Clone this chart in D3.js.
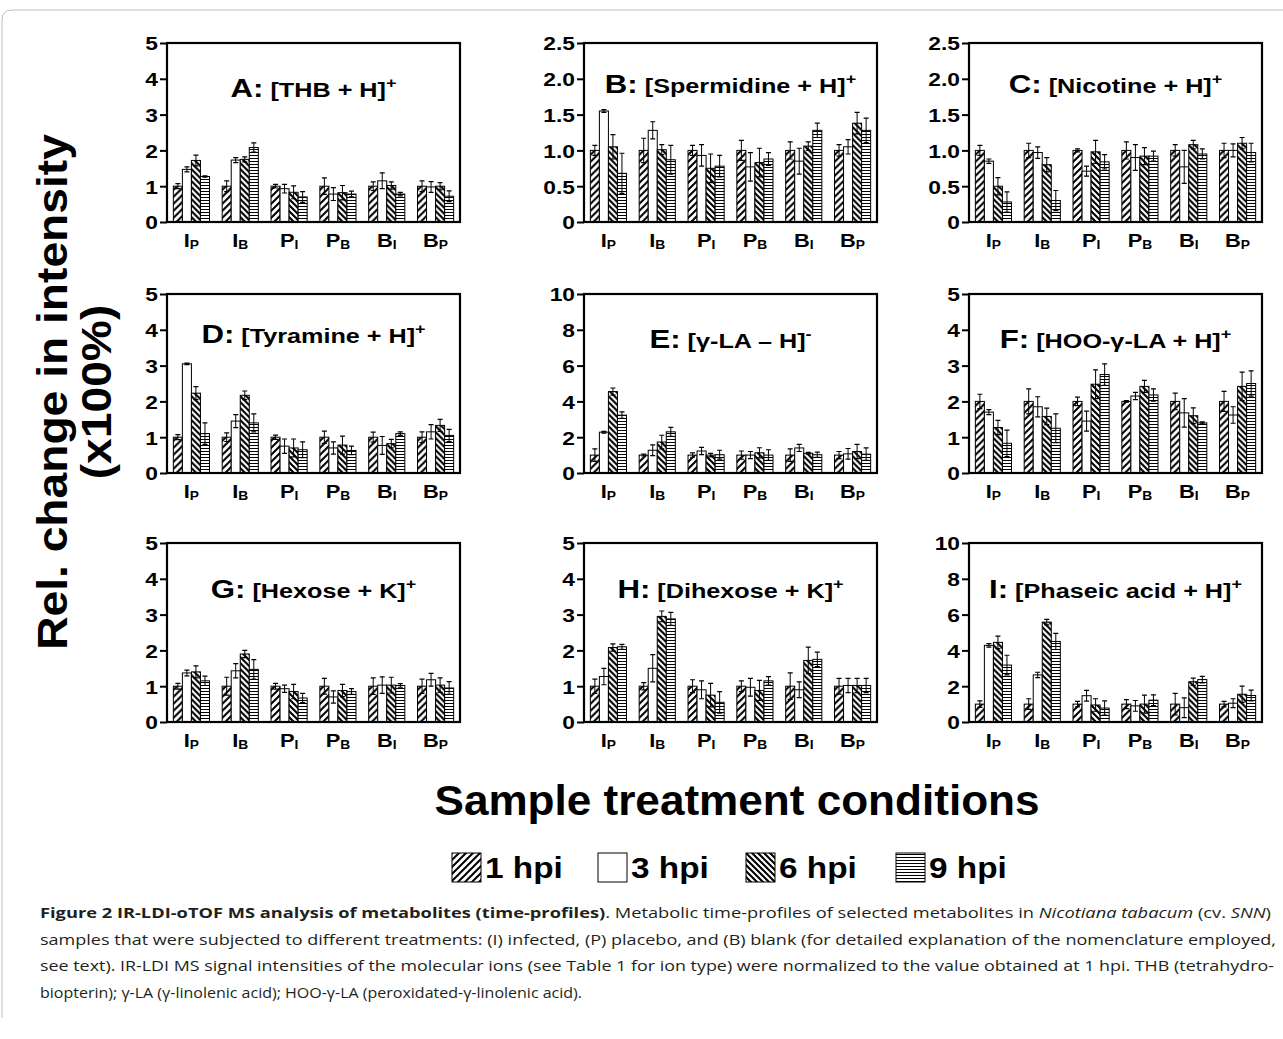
<!DOCTYPE html>
<html>
<head>
<meta charset="utf-8">
<script src="https://cdn.jsdelivr.net/npm/d3@7"></script>
<style>
  body { margin: 0; background: #fff; }
  svg { display: block; }
  text { font-family: "Liberation Sans", Arial, sans-serif; font-weight: bold; fill: #000; }
  .cap { font-family: "Open Sans", "Noto Sans", sans-serif; font-weight: normal; fill: #231f20; }
</style>
</head>
<body>
<div id="chart"></div>
<script>
// --- data
var groupMain = ['I', 'I', 'P', 'P', 'B', 'B'];
var groupSub  = ['P', 'B', 'I', 'B', 'I', 'P'];
var series = ['1 hpi', '3 hpi', '6 hpi', '9 hpi'];

var letters = ['A', 'B', 'C', 'D', 'E', 'F', 'G', 'H', 'I'];
var ions = ['[THB + H]', '[Spermidine + H]', '[Nicotine + H]', '[Tyramine + H]', '[\u03b3-LA \u2013 H]',
            '[HOO-\u03b3-LA + H]', '[Hexose + K]', '[Dihexose + K]', '[Phaseic acid + H]'];
var charges = ['+', '+', '+', '+', '-', '+', '+', '+', '+'];
var yMax = [5, 2.5, 2.5, 5, 10, 5, 5, 5, 10];
var yStep = [1, 0.5, 0.5, 1, 2, 1, 1, 1, 2];

// rows = groups (IP, IB, PI, PB, BI, BP), columns = 1, 3, 6, 9 hpi
var aMean = [[1,1.47,1.72,1.27],[1,1.73,1.75,2.08],[1,0.93,0.83,0.70],[1,0.78,0.82,0.78],[1,1.15,1.02,0.78],[1,0.98,1.0,0.72]];
var aErr  = [[0.07,0.07,0.15,0.02],[0.15,0.07,0.07,0.13],[0.05,0.12,0.18,0.15],[0.23,0.18,0.2,0.08],[0.12,0.22,0.1,0.05],[0.15,0.15,0.1,0.15]];
var bMean = [[1,1.55,1.05,0.68],[1,1.28,1.01,0.87],[1,0.93,0.75,0.78],[1,0.77,0.83,0.88],[1,0.85,1.06,1.28],[1,1.05,1.38,1.28]];
var bErr  = [[0.07,0.02,0.17,0.28],[0.17,0.12,0.07,0.2],[0.07,0.15,0.2,0.15],[0.14,0.2,0.2,0.09],[0.12,0.18,0.06,0.1],[0.08,0.1,0.15,0.17]];
var cMean = [[1,0.85,0.5,0.28],[1,0.97,0.8,0.3],[1,0.71,0.98,0.84],[1,0.9,0.92,0.92],[1,0.77,1.08,0.95],[1,1.0,1.1,0.97]];
var cErr  = [[0.07,0.03,0.12,0.14],[0.1,0.08,0.1,0.14],[0.02,0.07,0.16,0.1],[0.12,0.18,0.12,0.07],[0.08,0.23,0.06,0.07],[0.1,0.09,0.08,0.13]];
var dMean = [[1,3.05,2.23,1.1],[1,1.45,2.17,1.4],[1,0.75,0.7,0.65],[1,0.7,0.78,0.63],[1,0.77,0.82,1.1],[1,1.15,1.33,1.05]];
var dErr  = [[0.07,0.02,0.18,0.3],[0.12,0.18,0.12,0.25],[0.06,0.2,0.25,0.22],[0.17,0.17,0.25,0.12],[0.14,0.25,0.12,0.05],[0.15,0.2,0.17,0.17]];
var eMean = [[1,2.28,4.55,3.23],[1,1.27,1.73,2.3],[1,1.23,1.0,1.02],[1,1.0,1.13,1.0],[1,1.4,1.1,1.02],[1,1.07,1.2,1.05]];
var eErr  = [[0.35,0.05,0.2,0.18],[0.05,0.3,0.38,0.25],[0.12,0.2,0.1,0.25],[0.23,0.2,0.28,0.3],[0.35,0.2,0.05,0.15],[0.2,0.3,0.4,0.35]];
var fMean = [[2,1.7,1.27,0.83],[2,1.85,1.58,1.25],[2,1.45,2.48,2.75],[2,2.15,2.42,2.18],[2,1.68,1.6,1.4],[2,1.62,2.42,2.5]];
var fErr  = [[0.2,0.07,0.2,0.37],[0.35,0.28,0.23,0.4],[0.12,0.28,0.4,0.3],[0.02,0.1,0.17,0.17],[0.23,0.4,0.22,0.03],[0.28,0.23,0.4,0.35]];
var gMean = [[1,1.37,1.4,1.15],[1,1.43,1.9,1.47],[1,0.93,0.85,0.67],[1,0.7,0.88,0.85],[1,1.03,1.03,1.02],[1,1.18,1.03,0.95]];
var gErr  = [[0.08,0.08,0.17,0.13],[0.25,0.2,0.1,0.27],[0.08,0.1,0.2,0.13],[0.22,0.17,0.17,0.08],[0.23,0.23,0.22,0.05],[0.2,0.18,0.2,0.18]];
var hMean = [[1,1.27,2.08,2.1],[1,1.5,2.95,2.88],[1,0.9,0.75,0.55],[1,0.97,0.88,1.15],[1,0.9,1.72,1.75],[1,1.02,1.02,1.02]];
var hErr  = [[0.2,0.23,0.1,0.07],[0.1,0.38,0.15,0.18],[0.18,0.25,0.33,0.3],[0.15,0.25,0.28,0.12],[0.37,0.22,0.37,0.2],[0.22,0.2,0.2,0.2]];
var iMean = [[1,4.28,4.45,3.18],[1,2.63,5.58,4.5],[1,1.47,0.95,0.78],[1,0.9,1.0,1.22],[1,0.8,2.25,2.37],[1,1.05,1.55,1.48]];
var iErr  = [[0.18,0.1,0.35,0.55],[0.3,0.15,0.15,0.45],[0.15,0.3,0.35,0.4],[0.25,0.3,0.5,0.3],[0.6,0.55,0.2,0.18],[0.15,0.25,0.45,0.3]];

var means = [aMean, bMean, cMean, dMean, eMean, fMean, gMean, hMean, iMean];
var errs  = [aErr, bErr, cErr, dErr, eErr, fErr, gErr, hErr, iErr];

// --- layout
var W = 1283, H = 1039;
var colX = [167, 584, 969], rowY = [43, 294, 543];
var pw = 293, ph = 179;
var titleY = [54, 50, 50, 49, 54, 54, 55, 55, 55];
var SX = 1.2; // the panel lettering is a bit wide

var svg = d3.select('#chart').append('svg').attr('width', W).attr('height', H);
var defs = svg.append('defs');

function pat(id, w, h, d, sw) {
  var p = defs.append('pattern').attr('id', id)
    .attr('patternUnits', 'userSpaceOnUse').attr('width', w).attr('height', h);
  p.append('rect').attr('width', w).attr('height', h).attr('fill', '#fff');
  p.append('path').attr('d', d).attr('stroke', '#000').attr('stroke-width', sw).attr('fill', 'none');
}
pat('p1', 7, 7, 'M0,7L7,0M-3.5,3.5L3.5,-3.5M3.5,10.5L10.5,3.5', 2);
pat('p6', 6, 6, 'M0,0L6,6M-3,3L3,9M3,-3L9,3', 2.1);
pat('p9', 4, 3, 'M0,1.5H4', 1);
var fills = ['url(#p1)', '#fff', 'url(#p6)', 'url(#p9)'];

// frame around figure + caption
svg.append('path')
  .attr('d', 'M2,1018V20Q2,10 12,10H1283')
  .attr('fill', 'none').attr('stroke', '#bdbdbd').attr('stroke-width', 1);

// --- panels
means.forEach(function(m, i) {
  var g = svg.append('g')
    .attr('transform', 'translate(' + colX[i % 3] + ',' + rowY[Math.floor(i / 3)] + ')');

  var x = d3.scaleBand().domain(d3.range(6)).range([0, pw]).paddingInner(0.26).paddingOuter(0.13);
  var xs = d3.scaleBand().domain(d3.range(4)).range([0, x.bandwidth()]);
  var y = d3.scaleLinear().domain([0, yMax[i]]).range([ph, 0]);

  var ticks = d3.range(0, yMax[i] + 1e-9, yStep[i]);
  var yAxis = d3.axisLeft(y).tickValues(ticks).tickSize(7).tickSizeOuter(0)
    .tickFormat(function(d) { return d === 0 ? '0' : (yStep[i] < 1 ? d.toFixed(1) : d); });
  var ax = g.append('g').call(yAxis);
  ax.select('.domain').remove();
  ax.selectAll('.tick line').attr('stroke', '#000').attr('stroke-width', 2);
  ax.selectAll('.tick text')
    .attr('x', -9 / SX).attr('dy', '0.36em')
    .attr('transform', 'scale(' + SX + ',1)')
    .style('font-size', '19px').style('font-family', '"Liberation Sans", Arial, sans-serif')
    .style('font-weight', 'bold').attr('fill', '#000');

  // bars
  m.forEach(function(row, j) {
    var gg = g.append('g').attr('transform', 'translate(' + x(j) + ',0)');
    gg.selectAll('rect').data(row).enter().append('rect')
      .attr('x', function(d, s) { return xs(s); })
      .attr('y', function(d) { return y(d); })
      .attr('width', xs.bandwidth())
      .attr('height', function(d) { return ph - y(d); })
      .attr('fill', function(d, s) { return fills[s]; })
      .attr('stroke', '#000').attr('stroke-width', 1);

    // error bars
    var e = errs[i][j];
    var eb = gg.selectAll('g.eb').data(row).enter().append('g').attr('class', 'eb')
      .attr('transform', function(d, s) { return 'translate(' + (xs(s) + xs.bandwidth() / 2) + ',0)'; });
    eb.append('line')
      .attr('y1', function(d, s) { return y(d + e[s]); })
      .attr('y2', function(d, s) { return y(Math.max(0, d - e[s])); })
      .attr('stroke', '#000').attr('stroke-width', 1);
    eb.append('path')
      .attr('d', function(d, s) {
        var t = y(d + e[s]), b = y(Math.max(0, d - e[s]));
        return 'M-2.5,' + t + 'H2.5M-2.5,' + b + 'H2.5';
      })
      .attr('stroke', '#000').attr('stroke-width', 1.2);
  });

  // box
  g.append('rect').attr('width', pw).attr('height', ph)
    .attr('fill', 'none').attr('stroke', '#000').attr('stroke-width', 2.2);

  // group labels
  groupMain.forEach(function(lab, j) {
    var t = g.append('text')
      .attr('transform', 'translate(' + (x(j) + x.bandwidth() / 2) + ',' + (ph + 25) + ') scale(1.15,1)')
      .attr('text-anchor', 'middle');
    t.append('tspan').style('font-size', '19px').text(lab);
    t.append('tspan').style('font-size', '12px').attr('dy', 2).text(groupSub[j]);
  });

  // panel title
  var tt = g.append('text')
    .attr('transform', 'translate(' + (pw / 2) + ',' + titleY[i] + ') scale(' + SX + ',1)')
    .attr('text-anchor', 'middle');
  tt.append('tspan').style('font-size', '26px').text(letters[i] + ':');
  tt.append('tspan').style('font-size', '21px').text(' ' + ions[i]);
  tt.append('tspan').style('font-size', '15px').attr('dy', -9).text(charges[i]);
});

// --- axis titles
svg.append('text')
  .attr('transform', 'translate(67,392) rotate(-90) scale(1.1,1)')
  .attr('text-anchor', 'middle').style('font-size', '42px')
  .text('Rel. change in intensity');
svg.append('text')
  .attr('transform', 'translate(111,392) rotate(-90) scale(1.1,1)')
  .attr('text-anchor', 'middle').style('font-size', '42px')
  .text('(x100%)');
svg.append('text')
  .attr('transform', 'translate(737,815) scale(1.05,1)')
  .attr('text-anchor', 'middle').style('font-size', '42px')
  .text('Sample treatment conditions');

// --- legend
var legX = [452, 598, 746, 896];
var leg = svg.selectAll('g.leg').data(series).enter().append('g').attr('class', 'leg')
  .attr('transform', function(d, i) { return 'translate(' + legX[i] + ',853)'; });
leg.append('rect').attr('width', 29).attr('height', 29)
  .attr('fill', function(d, i) { return fills[i]; })
  .attr('stroke', '#000').attr('stroke-width', 1);
leg.append('text')
  .attr('transform', 'translate(33,25) scale(1.15,1)')
  .style('font-size', '29px')
  .text(function(d) { return d; });

// --- caption
var capY = [918, 945, 971, 998];
var capLen = [1231, 1236, 1234, 542];
var cap1 = svg.append('text').attr('class', 'cap').attr('x', 40).attr('y', capY[0])
  .attr('textLength', capLen[0]).attr('lengthAdjust', 'spacingAndGlyphs').style('font-size', '15px');
cap1.append('tspan').style('font-weight', 'bold').text('Figure 2 IR-LDI-oTOF MS analysis of metabolites (time-profiles)');
cap1.append('tspan').text('. Metabolic time-profiles of selected metabolites in ');
cap1.append('tspan').style('font-style', 'italic').text('Nicotiana tabacum');
cap1.append('tspan').text(' (cv. ');
cap1.append('tspan').style('font-style', 'italic').text('SNN');
cap1.append('tspan').text(')');

var capRest = [
  'samples that were subjected to different treatments: (I) infected, (P) placebo, and (B) blank (for detailed explanation of the nomenclature employed,',
  'see text). IR-LDI MS signal intensities of the molecular ions (see Table 1 for ion type) were normalized to the value obtained at 1 hpi. THB (tetrahydro-',
  'biopterin); \u03b3-LA (\u03b3-linolenic acid); HOO-\u03b3-LA (peroxidated-\u03b3-linolenic acid).'
];
capRest.forEach(function(line, k) {
  svg.append('text').attr('class', 'cap').attr('x', 40).attr('y', capY[k + 1])
    .attr('textLength', capLen[k + 1]).attr('lengthAdjust', 'spacingAndGlyphs')
    .style('font-size', '15px').text(line);
});
</script>
</body>
</html>
